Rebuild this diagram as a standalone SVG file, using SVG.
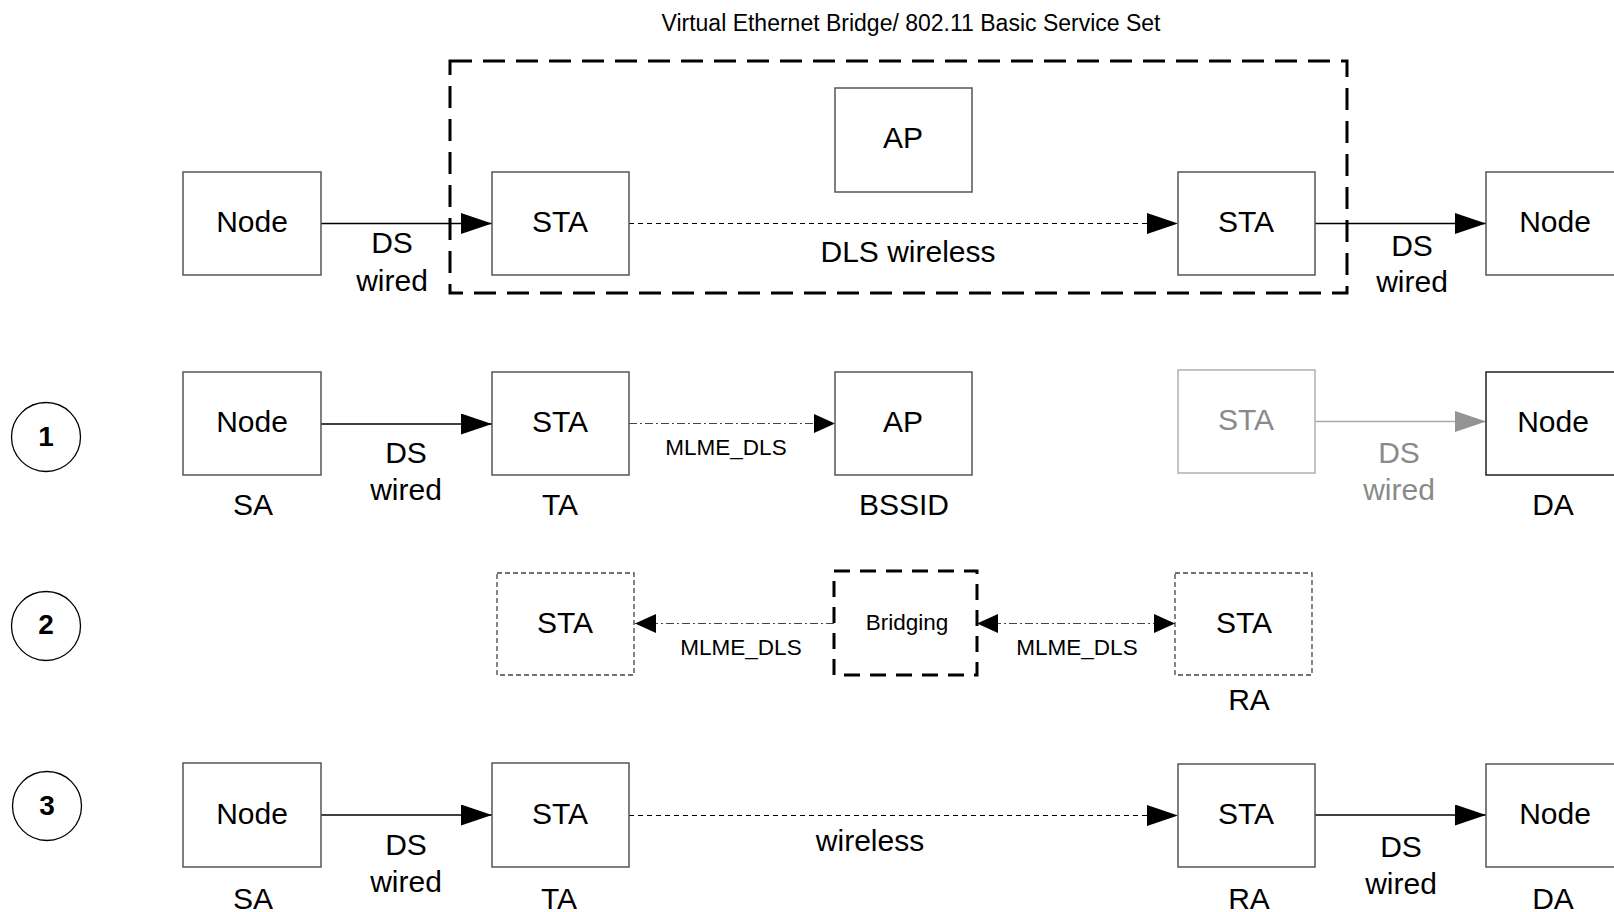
<svg xmlns="http://www.w3.org/2000/svg" width="1614" height="912" viewBox="0 0 1614 912">
  <defs>
    <style>
      text { font-family: "Liberation Sans", Arial, sans-serif; fill: #000; text-anchor: middle; }
      .big { font-size: 30px; }
      .small { font-size: 22.5px; }
      .title { font-size: 23px; }
      .num { font-size: 28px; font-weight: bold; }
      .grey { fill: #8a8a8a; }
      .box { fill: #fff; stroke: #555; stroke-width: 1.5; }
      .box-grey { fill: #fff; stroke: #b0b0b0; stroke-width: 1.5; }
      .box-dash { fill: #fff; stroke: #444; stroke-width: 1.3; stroke-dasharray: 5 3; }
      .box-bold-dash { fill: none; stroke: #000; stroke-width: 3; stroke-dasharray: 22 11; }
      .bridge { fill: #fff; stroke: #000; stroke-width: 3; stroke-dasharray: 16 10; }
      .circle { fill: #fff; stroke: #000; stroke-width: 1.3; }
      .wired { stroke: #000; stroke-width: 1.3; fill: none; }
      .wired-grey { stroke: #aaa; stroke-width: 1.5; fill: none; }
      .wireless { stroke: #000; stroke-width: 1.2; fill: none; stroke-dasharray: 5 4; }
      .mlme { stroke: #444; stroke-width: 1.2; fill: none; stroke-dasharray: 8 3 2 3; }
    </style>
    <marker id="arrow" markerUnits="userSpaceOnUse" markerWidth="31" markerHeight="21" refX="31" refY="10.5" orient="auto-start-reverse">
      <path d="M0,0 L31,10.5 L0,21 Z" fill="#000"/>
    </marker>
    <marker id="arrow-grey" markerUnits="userSpaceOnUse" markerWidth="31" markerHeight="21" refX="31" refY="10.5" orient="auto-start-reverse">
      <path d="M0,0 L31,10.5 L0,21 Z" fill="#939393"/>
    </marker>
    <marker id="arrow-small" markerUnits="userSpaceOnUse" markerWidth="21" markerHeight="19" refX="21" refY="9.5" orient="auto-start-reverse">
      <path d="M0,0 L21,9.5 L0,19 Z" fill="#000"/>
    </marker>
  </defs>

  <rect width="1614" height="912" fill="#fff"/>

  <!-- Virtual bridge / BSS boundary -->
  <g id="bss">
    <text class="title" x="911" y="31">Virtual Ethernet Bridge/ 802.11 Basic Service Set</text>
    <rect class="box-bold-dash" x="450" y="61" width="897" height="232"/>
  </g>

  <!-- Step markers -->
  <g id="step1"><circle class="circle" cx="46" cy="437" r="34.5"/><text class="num" x="46" y="446">1</text></g>
  <g id="step2"><circle class="circle" cx="46" cy="626" r="34.5"/><text class="num" x="46" y="634">2</text></g>
  <g id="step3"><circle class="circle" cx="47" cy="806" r="34.5"/><text class="num" x="47" y="815">3</text></g>

  <!-- Connectors -->
  <g id="connectors">
    <!-- row 0 -->
    <line class="wired" x1="321" y1="223.5" x2="492" y2="223.5" marker-end="url(#arrow)"/>
    <line class="wireless" x1="629" y1="223.5" x2="1178" y2="223.5" marker-end="url(#arrow)"/>
    <line class="wired" x1="1315" y1="223.5" x2="1486" y2="223.5" marker-end="url(#arrow)"/>
    <!-- row 1 -->
    <line class="wired" x1="321" y1="424" x2="492" y2="424" marker-end="url(#arrow)"/>
    <line class="mlme" x1="629" y1="423.5" x2="835" y2="423.5" marker-end="url(#arrow-small)"/>
    <line class="wired-grey" x1="1315" y1="421.5" x2="1486" y2="421.5" marker-end="url(#arrow-grey)"/>
    <!-- row 2 -->
    <line class="mlme" x1="834" y1="623.5" x2="635" y2="623.5" marker-end="url(#arrow-small)"/>
    <line class="mlme" x1="977" y1="623.5" x2="1175" y2="623.5" marker-start="url(#arrow-small)" marker-end="url(#arrow-small)"/>
    <!-- row 3 -->
    <line class="wired" x1="321" y1="815" x2="492" y2="815" marker-end="url(#arrow)"/>
    <line class="wireless" x1="629" y1="815.5" x2="1178" y2="815.5" marker-end="url(#arrow)"/>
    <line class="wired" x1="1315" y1="815" x2="1486" y2="815" marker-end="url(#arrow)"/>
  </g>

  <!-- Connector labels -->
  <g id="edge-labels">
    <text class="big" x="392" y="253">DS</text>
    <text class="big" x="392" y="291">wired</text>
    <text class="big" x="908" y="262">DLS wireless</text>
    <text class="big" x="1412" y="256">DS</text>
    <text class="big" x="1412" y="292">wired</text>

    <text class="big" x="406" y="463">DS</text>
    <text class="big" x="406" y="500">wired</text>
    <text class="small" x="726" y="455">MLME_DLS</text>
    <text class="big grey" x="1399" y="463">DS</text>
    <text class="big grey" x="1399" y="500">wired</text>

    <text class="small" x="741" y="655">MLME_DLS</text>
    <text class="small" x="1077" y="655">MLME_DLS</text>

    <text class="big" x="406" y="855">DS</text>
    <text class="big" x="406" y="892">wired</text>
    <text class="big" x="870" y="851">wireless</text>
    <text class="big" x="1401" y="857">DS</text>
    <text class="big" x="1401" y="894">wired</text>
  </g>

  <!-- Row 0 -->
  <g id="r0-node-src"><rect class="box" x="183" y="172" width="138" height="103"/><text class="big" x="252" y="232">Node</text></g>
  <g id="r0-sta-src"><rect class="box" x="492" y="172" width="137" height="103"/><text class="big" x="560" y="232">STA</text></g>
  <g id="r0-ap"><rect class="box" x="835" y="88" width="137" height="104"/><text class="big" x="903" y="148">AP</text></g>
  <g id="r0-sta-dst"><rect class="box" x="1178" y="172" width="137" height="103"/><text class="big" x="1246" y="232">STA</text></g>
  <g id="r0-node-dst"><rect class="box" x="1486" y="172" width="140" height="103"/><text class="big" x="1555" y="232">Node</text></g>

  <!-- Row 1 -->
  <g id="r1-node-sa"><rect class="box" x="183" y="372" width="138" height="103"/><text class="big" x="252" y="432">Node</text><text class="big" x="253" y="515">SA</text></g>
  <g id="r1-sta-ta"><rect class="box" x="492" y="372" width="137" height="103"/><text class="big" x="560" y="432">STA</text><text class="big" x="560" y="515">TA</text></g>
  <g id="r1-ap"><rect class="box" x="835" y="372" width="137" height="103"/><text class="big" x="903" y="432">AP</text><text class="big" x="904" y="515">BSSID</text></g>
  <g id="r1-sta-grey"><rect class="box-grey" x="1178" y="370" width="137" height="103"/><text class="big grey" x="1246" y="430">STA</text></g>
  <g id="r1-node-da"><rect class="box" x="1486" y="372" width="140" height="103" style="stroke:#222"/><text class="big" x="1553" y="432">Node</text><text class="big" x="1553" y="515">DA</text></g>

  <!-- Row 2 -->
  <g id="r2-sta-left"><rect class="box-dash" x="497" y="573" width="137" height="102"/><text class="big" x="565" y="633">STA</text></g>
  <g id="r2-bridging"><rect class="bridge" x="834" y="571" width="143" height="104"/><text class="small" x="907" y="630">Bridging</text></g>
  <g id="r2-sta-ra"><rect class="box-dash" x="1175" y="573" width="137" height="102"/><text class="big" x="1244" y="633">STA</text><text class="big" x="1249" y="710">RA</text></g>

  <!-- Row 3 -->
  <g id="r3-node-sa"><rect class="box" x="183" y="763" width="138" height="104"/><text class="big" x="252" y="824">Node</text><text class="big" x="253" y="909">SA</text></g>
  <g id="r3-sta-ta"><rect class="box" x="492" y="763" width="137" height="104"/><text class="big" x="560" y="824">STA</text><text class="big" x="559" y="909">TA</text></g>
  <g id="r3-sta-ra"><rect class="box" x="1178" y="764" width="137" height="103"/><text class="big" x="1246" y="824">STA</text><text class="big" x="1249" y="909">RA</text></g>
  <g id="r3-node-da"><rect class="box" x="1486" y="764" width="140" height="103"/><text class="big" x="1555" y="824">Node</text><text class="big" x="1553" y="909">DA</text></g>
</svg>
